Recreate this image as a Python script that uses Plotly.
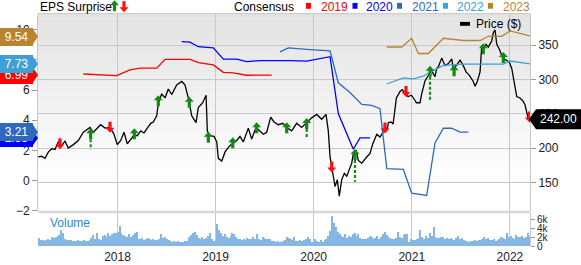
import plotly.graph_objects as go

W, H = 581, 265

# ---------------- data ----------------
years = [2018, 2019, 2020, 2021, 2022]
x_start, x_end = 2017.19, 2022.205

price_t = [2017.193, 2017.228, 2017.261, 2017.295, 2017.330, 2017.363, 2017.397, 2017.432, 2017.465, 2017.499,
           2017.550, 2017.601, 2017.652, 2017.686, 2017.720, 2017.754, 2017.788, 2017.829, 2017.873, 2017.924,
           2017.965, 2017.998, 2018.033, 2018.067, 2018.100, 2018.135, 2018.169, 2018.202, 2018.237, 2018.271,
           2018.304, 2018.339, 2018.365, 2018.400, 2018.416, 2018.451, 2018.485, 2018.518, 2018.553, 2018.604,
           2018.655, 2018.688, 2018.722, 2018.757, 2018.801, 2018.824, 2018.869, 2018.903, 2018.916, 2018.943,
           2018.984, 2019.012, 2019.028, 2019.063, 2019.096, 2019.130, 2019.165, 2019.216, 2019.249, 2019.283,
           2019.334, 2019.368, 2019.412, 2019.453, 2019.487, 2019.521, 2019.562, 2019.596, 2019.640, 2019.684,
           2019.725, 2019.776, 2019.827, 2019.878, 2019.929, 2019.980, 2020.031, 2020.082, 2020.126, 2020.149,
           2020.167, 2020.194, 2020.218, 2020.241, 2020.261, 2020.286, 2020.312, 2020.337, 2020.370, 2020.388,
           2020.404, 2020.432, 2020.455, 2020.490, 2020.541, 2020.574, 2020.602, 2020.643, 2020.676, 2020.703,
           2020.725, 2020.750, 2020.762, 2020.790, 2020.810, 2020.827, 2020.843, 2020.860, 2020.878, 2020.902,
           2020.929, 2020.945, 2020.962, 2020.996, 2021.030, 2021.047, 2021.084, 2021.101, 2021.135, 2021.169,
           2021.186, 2021.203, 2021.220, 2021.237, 2021.254, 2021.270, 2021.305, 2021.339, 2021.373, 2021.407,
           2021.423, 2021.458, 2021.492, 2021.525, 2021.553, 2021.587, 2021.627, 2021.645, 2021.668, 2021.696,
           2021.713, 2021.729, 2021.757, 2021.780, 2021.815, 2021.831, 2021.849, 2021.866, 2021.893, 2021.917,
           2021.940, 2021.968, 2021.994, 2022.019, 2022.035, 2022.052, 2022.070, 2022.103, 2022.131, 2022.154,
           2022.172, 2022.188, 2022.205]
price_v = [187, 188, 185, 194, 199, 198, 209, 204, 210, 200,
           205, 211, 223, 226, 230, 223, 228, 234, 229, 230,
           220, 205, 211, 223, 206, 212, 219, 218, 225, 222,
           229, 236, 238, 247, 265, 279, 273, 286, 278, 292,
           297, 292, 273, 247, 237, 259, 266, 277, 225, 218,
           217, 209, 185, 181, 194, 201, 206, 211, 217, 209,
           229, 213, 230, 225, 220, 223, 245, 238, 234, 236,
           230, 225, 236, 230, 237, 244, 249, 242, 249, 225,
           187, 163, 144, 154, 130, 154, 163, 159, 170, 178,
           192, 197, 182, 178, 187, 192, 206, 220, 216, 222,
           231, 228, 237, 238, 235, 260, 273, 277, 282, 285,
           279, 277, 275, 277, 270, 266, 266, 279, 298, 306,
           311, 313, 308, 304, 316, 318, 331, 320, 323, 330,
           316, 321, 328, 320, 311, 306, 297, 290, 297, 311,
           349, 344, 351, 347, 356, 368, 372, 351, 344, 335,
           330, 328, 325, 316, 304, 287, 275, 273, 269, 263,
           249, 242, 242]

# consensus EPS estimates by fiscal year
c2019_t = [2017.652, 2017.992, 2018.128, 2018.230, 2018.400, 2018.485, 2018.739, 2018.824, 2018.977, 2019.079,
           2019.181, 2019.317, 2019.572]
c2019_v = [7.06, 6.95, 7.34, 7.45, 7.45, 8.03, 8.03, 7.82, 7.66, 7.17, 7.13, 6.98, 6.99]
c2020_t = [2018.655, 2018.739, 2018.824, 2018.977, 2019.079, 2019.216, 2019.317, 2019.453, 2019.759, 2019.929,
           2020.167, 2020.251, 2020.404, 2020.472, 2020.574]
c2020_v = [9.21, 9.17, 8.87, 8.79, 8.05, 8.05, 7.88, 7.95, 7.95, 7.92, 8.21, 4.44, 2.08, 2.83, 2.83]
c2021_t = [2019.657, 2019.741, 2019.963, 2020.167, 2020.251, 2020.370, 2020.490, 2020.592, 2020.676, 2020.745,
           2020.914, 2020.999, 2021.152, 2021.237, 2021.322, 2021.407, 2021.492, 2021.577]
c2021_v = [8.53, 8.79, 8.68, 8.59, 6.48, 5.84, 5.05, 4.98, 4.76, 0.79, 0.74, -0.83, -0.98, 2.50, 3.47, 3.47,
           3.21, 3.21]
c2022_t = [2020.745, 2020.914, 2021.016, 2021.118, 2021.203, 2021.322, 2021.526, 2021.730, 2021.934, 2022.002,
           2022.104, 2022.205]
c2022_v = [6.40, 6.81, 6.74, 6.92, 7.24, 7.63, 7.71, 7.71, 7.71, 7.92, 7.82, 7.73]
c2023_t = [2020.745, 2020.898, 2020.999, 2021.067, 2021.169, 2021.322, 2021.526, 2021.696, 2021.780, 2021.917,
           2022.002, 2022.104, 2022.205]
c2023_v = [8.85, 8.85, 9.43, 8.42, 8.42, 9.43, 9.28, 9.28, 9.56, 9.56, 9.92, 9.77, 9.58]

# EPS surprise markers (position on the price line)
beat_t = [2017.727, 2018.172, 2018.416, 2018.732, 2018.926, 2019.175, 2019.419, 2019.725, 2019.929, 2020.421,
          2021.186, 2021.431, 2021.729, 2021.933]
beat_head = [220, 220, 268, 266, 215, 207, 229, 229, 235, 190, 311, 312, 344, 331]
beat_tail = [198, 216, 264, 262, 211, 203, 225, 225, 213, 151, 270, 308, 340, 327]
miss_t = [2017.414, 2017.924, 2020.184, 2020.727, 2020.941, 2022.198]
miss_head = [207, 231, 173, 230, 283, 246]

# weekly volume (thousands)
volume_k = [1.8, 1.4, 1.3, 1.1, 1.3, 1.6, 1.4, 2.0, 1.8, 2.1,
            2.3, 2.5, 3.6, 2.9,
            1.6, 1.4, 1.3, 1.3, 1.2, 1.1, 1.2, 1.3, 1.1, 1.2, 1.3, 1.2, 1.1, 1.3,
            1.8, 2.4, 1.5, 2.8, 1.6, 1.4, 2.2,
            2.5, 2.0, 2.9, 2.2, 2.6, 2.8, 3.0,
            3.2, 4.4, 3.0, 2.5,
            2.3, 2.1, 2.6, 2.0, 2.4, 2.8, 3.2,
            1.6, 1.5, 1.7, 1.4, 1.5, 1.8, 1.6, 1.4, 1.5, 1.3, 1.4,
            1.6, 2.7,
            1.8, 2.1, 1.6, 1.4,
            1.1, 1.0, 1.2, 1.0, 1.1, 1.0, 0.9, 1.0, 1.1, 1.2,
            2.1, 2.5, 2.8, 3.2, 2.4,
            1.8, 1.6, 2.0, 1.5, 1.7, 2.2,
            3.0, 1.6, 1.2,
            1.4, 4.9, 3.6,
            2.8, 2.2, 2.6, 1.9, 1.7,
            2.3, 2.8, 2.6, 2.0, 1.6, 1.5,
            1.4, 1.6, 1.4, 1.7, 1.5, 1.6, 2.0, 1.5,
            2.7, 1.6,
            1.4, 2.1, 1.7,
            1.6, 1.5, 1.6, 1.2, 1.1, 1.0, 1.1, 0.9, 1.0,
            1.2, 1.4, 2.0, 1.8, 1.5,
            1.3, 1.9, 1.2, 1.1, 1.3, 1.2, 1.4, 1.5, 2.0,
            1.6, 0.9,
            0.9, 1.6, 1.2, 0.9, 1.4,
            1.0, 1.3, 1.6, 2.2,
            3.4, 6.7, 5.0, 4.3, 3.2, 2.6,
            2.3, 2.0, 2.7, 1.8, 2.2, 2.1, 2.6,
            2.8, 2.3, 2.7, 1.7, 1.5, 1.6, 1.5, 1.7, 2.3, 1.9, 1.6, 1.8,
            2.2, 1.6, 2.0, 2.6, 3.2, 2.5, 2.0,
            1.7, 1.5, 1.6, 1.8, 3.2, 2.1, 1.7,
            2.4, 2.6, 2.7,
            1.0, 1.5, 1.4, 1.3, 1.5, 1.7,
            3.6, 1.9, 1.6, 2.3, 1.7,
            3.0, 2.2, 4.3,
            2.0, 1.8, 1.7, 2.0, 1.9, 1.6, 1.8, 1.5, 1.7, 1.6,
            1.4, 1.8, 2.2, 1.5, 1.7, 1.3, 1.2, 1.1, 1.0, 1.2, 1.1, 1.3, 1.2, 1.4, 1.3,
            1.6, 1.9, 1.5, 1.8, 1.4, 1.3, 1.5, 1.2, 1.4, 1.6, 2.0, 1.8, 1.5, 2.8, 1.9, 2.3,
            1.7, 1.6, 2.4, 2.0, 1.9, 2.2, 1.8, 2.1, 2.9, 2.3]
volume_start = 2017.19
week = 7 / 365.25

consensus_years = ["2019", "2020", "2021", "2022", "2023"]
consensus_colors = ["#ff0000", "#0000ff", "#2f69bf", "#3ea0d6", "#b8842f"]
badge_order = ["2020", "2021", "2019", "2022", "2023"]   # later ones drawn on top
badge_values = {"2019": 6.99, "2020": 2.83, "2021": 3.21, "2022": 7.73, "2023": 9.54}
last_price = 242.00

# ---------------- figure ----------------
FONT = "Liberation Sans, Arial, sans-serif"
L, R, T, B = 38, 530, 14, 217      # main panel pixels
VT, VB = 219, 253                  # volume panel pixels
px = lambda p: p / W
py = lambda p: 1 - p / H

fig = go.Figure()

vol_t = [volume_start + (i + 0.5) * week for i in range(len(volume_k))]
fig.add_trace(go.Bar(x=vol_t, y=volume_k, xaxis="x2", yaxis="y3",
                     width=week * 0.72, marker=dict(color="#86b6e3", line_width=0),
                     showlegend=False, hoverinfo="skip"))

cons = [(c2019_t, c2019_v), (c2020_t, c2020_v), (c2021_t, c2021_v), (c2022_t, c2022_v), (c2023_t, c2023_v)]
for (t, v), col in zip(cons, consensus_colors):
    fig.add_trace(go.Scatter(x=t, y=v, mode="lines", xaxis="x", yaxis="y2",
                             line=dict(color=col, width=1.3), showlegend=False, hoverinfo="skip"))

fig.add_trace(go.Scatter(x=price_t, y=price_v, mode="lines", xaxis="x", yaxis="y",
                         line=dict(color="#000000", width=1.3), showlegend=False, hoverinfo="skip"))

# dashed tails of positive surprises
tx, ty = [], []
for t, h, tl in zip(beat_t, beat_head, beat_tail):
    tx += [t, t, None]
    ty += [h, tl, None]
fig.add_trace(go.Scatter(x=tx, y=ty, mode="lines", xaxis="x", yaxis="y",
                         line=dict(color="#138a13", width=2.2, dash="3px,2px"),
                         showlegend=False, hoverinfo="skip"))

shapes = []
# gradient background of main panel
n = 40
for i in range(n):
    y0 = T + (B - T) * i / n
    y1 = T + (B - T) * (i + 1) / n
    f = i / (n - 1)
    g = int(round(227 + (255 - 227) * min(1.0, f * 1.15)))
    shapes.append(dict(type="rect", xref="paper", yref="paper", x0=px(L), x1=px(R), y0=py(y1), y1=py(y0) + 0.001,
                       fillcolor=f"rgb({g},{g},{g})", line_width=0, layer="below"))
# panel frame
shapes.append(dict(type="line", xref="paper", yref="paper", x0=px(L), x1=px(R), y0=py(T), y1=py(T),
                   line=dict(color="#c8c8c8", width=1)))
shapes.append(dict(type="rect", xref="paper", yref="paper", x0=px(L), x1=px(R), y0=py(219), y1=py(216.5),
                   fillcolor="#d6d6d6", line_width=0))

UP = "M0,6 L4.5,1 L1.6,1 L1.6,-5 L-1.6,-5 L-1.6,1 L-4.5,1 Z"
DOWN = "M0,-6 L4.5,-1 L1.6,-1 L1.6,5 L-1.6,5 L-1.6,-1 L-4.5,-1 Z"
for t, h in zip(beat_t, beat_head):
    shapes.append(dict(type="path", xref="x", yref="y", xsizemode="pixel", ysizemode="pixel",
                       xanchor=t, yanchor=h, path=UP, fillcolor="#138a13", line_width=0))
for t, h in zip(miss_t, miss_head):
    shapes.append(dict(type="path", xref="x", yref="y", xsizemode="pixel", ysizemode="pixel",
                       xanchor=t, yanchor=h, path=DOWN, fillcolor="#ff1010", line_width=0))

annotations = []
# value badges on the EPS axis (box = annotation, tip = shape)
cmap = dict(zip(consensus_years, consensus_colors))
for yr in badge_order:
    v = badge_values[yr]
    shapes.append(dict(type="path", xref="paper", yref="y2", xsizemode="pixel", ysizemode="pixel",
                       xanchor=0, yanchor=v, path="M32,-8.8 L38,0 L32,8.8 Z",
                       fillcolor=cmap[yr], line_width=0))
    annotations.append(dict(xref="paper", yref="y2", x=0, y=v, text=f"{v:.2f}", showarrow=False,
                            width=33, height=17.6, borderpad=0, borderwidth=0, bgcolor=cmap[yr],
                            align="center", valign="middle",
                            font=dict(family=FONT, size=12, color="white"), xanchor="left", yanchor="middle"))
# price badge
shapes.append(dict(type="path", xref="paper", yref="y", xsizemode="pixel", ysizemode="pixel",
                   xanchor=px(529), yanchor=last_price, path="M0,0 L7,10 L52,10 L52,-10 L7,-10 Z",
                   fillcolor="#000000", line_width=0))
annotations.append(dict(xref="paper", yref="y", x=px(558.5), y=last_price, text=f"{last_price:.2f}",
                        showarrow=False, font=dict(family=FONT, size=12, color="white"),
                        xanchor="center", yanchor="middle"))

# header legend
ty0 = py(7)
annotations.append(dict(xref="paper", yref="paper", x=px(38), y=ty0, text="EPS Surprise", showarrow=False,
                        font=dict(family=FONT, size=12, color="#000"), xanchor="left", yanchor="middle"))
shapes.append(dict(type="path", xref="paper", yref="paper", xsizemode="pixel", ysizemode="pixel",
                   xanchor=px(114.5), yanchor=py(6.5), path=UP, fillcolor="#138a13", line_width=0))
shapes.append(dict(type="path", xref="paper", yref="paper", xsizemode="pixel", ysizemode="pixel",
                   xanchor=px(124), yanchor=py(6.5), path=DOWN, fillcolor="#ff1010", line_width=0))
annotations.append(dict(xref="paper", yref="paper", x=px(232), y=ty0, text="Consensus", showarrow=False,
                        font=dict(family=FONT, size=12, color="#000"), xanchor="left", yanchor="middle"))
sq_x = [306, 352.5, 397, 443, 488]
tx_x = [318.5, 364.5, 409.5, 455, 500.5]
for yr, col, sx, tx_ in zip(consensus_years, consensus_colors, sq_x, tx_x):
    shapes.append(dict(type="rect", xref="paper", yref="paper", x0=px(sx), x1=px(sx + 5),
                       y0=py(9), y1=py(3), fillcolor=col, line_width=0))
    annotations.append(dict(xref="paper", yref="paper", x=px(tx_), y=ty0, text=yr, showarrow=False,
                            font=dict(family=FONT, size=12, color=col), xanchor="left", yanchor="middle"))
shapes.append(dict(type="rect", xref="paper", yref="paper", x0=px(460), x1=px(470), y0=py(26.5), y1=py(22.5),
                   fillcolor="#000", line_width=0))
annotations.append(dict(xref="paper", yref="paper", x=px(474), y=py(25), text="Price ($)", showarrow=False,
                        font=dict(family=FONT, size=12, color="#000"), xanchor="left", yanchor="middle"))
annotations.append(dict(xref="paper", yref="paper", x=px(48), y=py(229), text="Volume", showarrow=False,
                        font=dict(family=FONT, size=12, color="#2f86d0"), xanchor="left", yanchor="middle"))

grid = "#c8c8c8"
fig.update_layout(
    width=W, height=H, margin=dict(l=0, r=0, t=0, b=0),
    paper_bgcolor="white", plot_bgcolor="rgba(0,0,0,0)",
    font=dict(family=FONT, size=12, color="#222"),
    showlegend=False, bargap=0,
    xaxis=dict(domain=[px(L), px(R)], range=[x_start, x_end], anchor="y", tickvals=years,
               showticklabels=False, showgrid=True, gridcolor=grid, zeroline=False, ticks=""),
    yaxis=dict(domain=[py(B), py(T)], range=[107.9, 395.8], side="right", anchor="x",
               tickvals=[150, 200, 250, 300, 350], showgrid=True, gridcolor=grid, zeroline=False,
               ticks="outside", ticklen=5, tickcolor="#999", showline=True, linecolor=grid,
               tickfont=dict(size=12, color="#222")),
    yaxis2=dict(overlaying="y", side="left", anchor="x", range=[-2.03, 11.06],
                tickvals=[-2, 0, 2, 4, 6, 8, 10], showgrid=False, zeroline=False,
                ticks="outside", ticklen=5, tickcolor="#999", showline=True, linecolor=grid,
                tickfont=dict(size=12, color="#222")),
    xaxis2=dict(domain=[px(L), px(R)], range=[x_start, x_end], anchor="y3", tickvals=years,
                ticktext=[str(y) for y in years], showgrid=True, gridcolor=grid, zeroline=False,
                ticks="", ticklabelstandoff=2, tickfont=dict(size=12, color="#222")),
    yaxis3=dict(domain=[py(VB), py(VT)], range=[0, 7.3], side="right", anchor="x2",
                tickvals=[0, 2, 4, 6], ticktext=["0", "2k", "4k", "6k"], showgrid=False, zeroline=False,
                ticks="outside", ticklen=4, tickcolor="#999", showline=True, linecolor=grid,
                tickfont=dict(size=10, color="#222")),
    shapes=shapes, annotations=annotations,
)

fig.write_html("out.html")
